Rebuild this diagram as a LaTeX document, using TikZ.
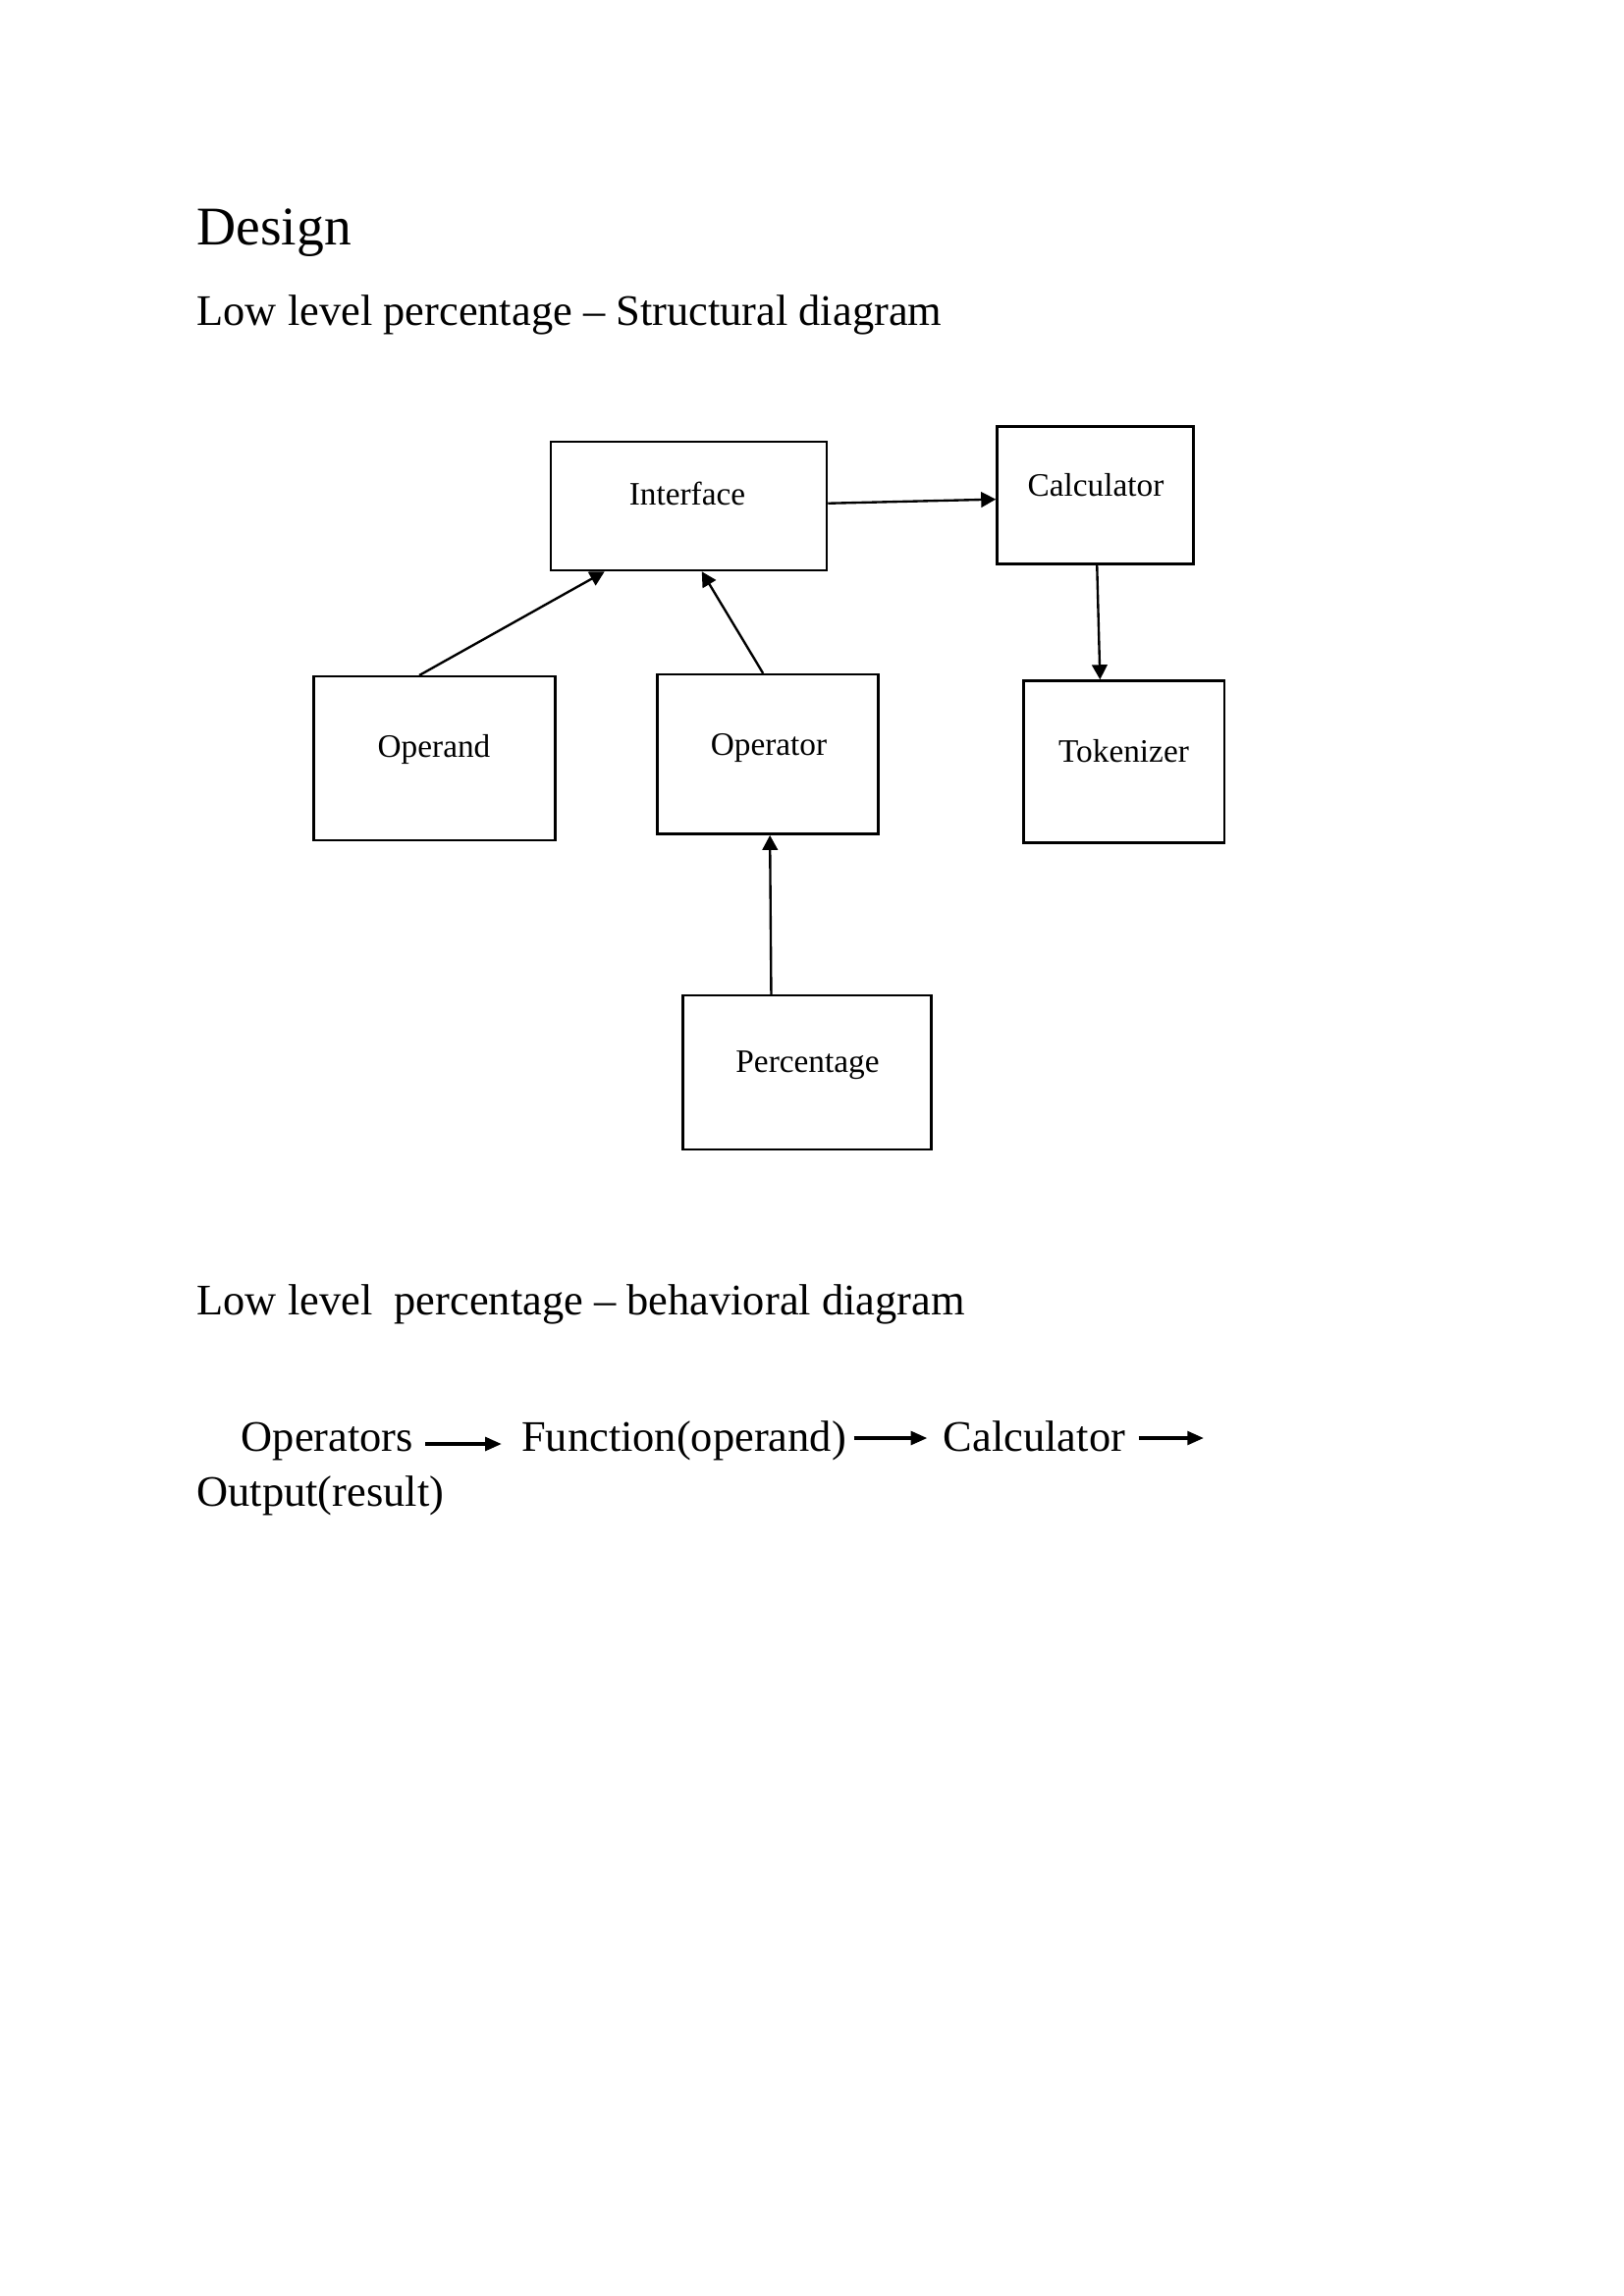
\documentclass[tikz,border=0pt]{standalone}
\usepackage{fontspec}
\setmainfont{Liberation Serif}
\usetikzlibrary{arrows.meta}

\def\dpx{0.36013pt}

\tikzset{
  blockbox/.style={draw, line width=0.9pt, inner sep=0pt},
  boxtext/.style={anchor=base, inner sep=0pt, font=\fontsize{12}{14}\selectfont},
  bodytext/.style={anchor=base west, inner sep=0pt, font=\fontsize{16}{19}\selectfont},
  link/.style={->, line width=0.85pt},
  flow/.style={-{Triangle[length=6pt,width=5pt]}, line width=1.1pt}
}

\begin{document}
\begin{tikzpicture}[x=\dpx, y=-\dpx, >={Triangle[length=5.4pt,width=5.6pt]}]
\useasboundingbox (0,0) rectangle (1653,2339);

\node[anchor=base west, inner sep=0pt, font=\fontsize{20}{24}\selectfont] (design) at (200,249) {Design};
\node[bodytext] (structTitle) at (200,331) {Low level percentage -- Structural diagram};

% boxes
\node[blockbox, minimum width=281*\dpx, minimum height=131*\dpx] (iface) at (701.5,515.5) {};
\node[blockbox, minimum width=200*\dpx, minimum height=140*\dpx] (calc) at (1115.5,504.4) {};
\node[blockbox, minimum width=246*\dpx, minimum height=167*\dpx] (operand) at (442.3,772.7) {};
\node[blockbox, minimum width=225*\dpx, minimum height=162.5*\dpx] (operator) at (781.9,768.4) {};
\node[blockbox, minimum width=204.6*\dpx, minimum height=165*\dpx] (token) at (1144.9,776) {};
\node[blockbox, minimum width=253*\dpx, minimum height=157*\dpx] (percent) at (822.2,1092.7) {};

\node[boxtext] (ifaceText) at (700,514) {Interface};
\node[boxtext] (calcText) at (1116,505) {Calculator};
\node[boxtext] (operandText) at (442,771.5) {Operand};
\node[boxtext] (operatorText) at (783,769.3) {Operator};
\node[boxtext] (tokenText) at (1144.5,776) {Tokenizer};
\node[boxtext] (percentText) at (822.5,1092.4) {Percentage};

% connectors
\draw[link] ([yshift=-64*\dpx]iface.north east) -- ([yshift=-75.5*\dpx]calc.north west);
\draw[link] ([xshift=109*\dpx]operand.north west) -- ([xshift=56*\dpx]iface.south west);
\draw[link] ([xshift=109*\dpx]operator.north west) -- ([xshift=155*\dpx]iface.south west);
\draw[link] ([xshift=103*\dpx]calc.south west) -- ([xshift=79*\dpx]token.north west);
\draw[link] ([xshift=91*\dpx]percent.north west) -- ([xshift=116*\dpx]operator.south west);

\node[bodytext] (behavTitle) at (200,1339) {Low level\ \ percentage -- behavioral diagram};

% behavioral row
\node[bodytext] (ops) at (245.3,1478.5) {Operators};
\node[bodytext] (func) at (530.6,1478.5) {Function(operand)};
\node[bodytext] (calcWord) at (960.4,1478.5) {Calculator};
\node[bodytext] (output) at (200,1534.8) {Output(result)};
\coordinate (flowEnd) at (1225.9,1465);

\draw[flow] ([shift={(11.7,-7.5)}]ops.base east) -- ([shift={(-19.8,-7.5)}]func.base west);
\draw[flow] ([shift={(7.3,-13.5)}]func.base east) -- ([shift={(-16.1,-13.5)}]calcWord.base west);
\draw[flow] ([shift={(13.2,-13.5)}]calcWord.base east) -- (flowEnd);
\end{tikzpicture}
\end{document}
